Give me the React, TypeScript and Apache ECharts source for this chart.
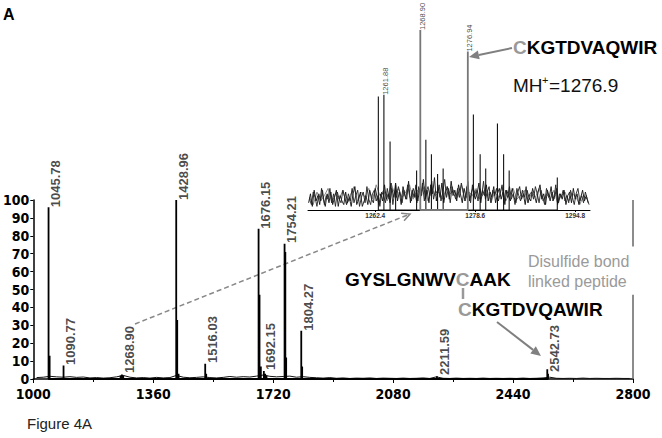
import React, { useEffect, useRef } from "react";
import * as echarts from "echarts";

// ---------- main spectrum ----------
const peakMz = [1045.8, 1049, 1090.8, 1262, 1266, 1270, 1429, 1432, 1436, 1516, 1519, 1676.2, 1679, 1683, 1692, 1696, 1700, 1754.2, 1756.5, 1759, 1804.3, 1807, 2211.6, 2542.7, 2545];
const peakInt = [96, 13, 7.5, 2, 2.5, 2, 100, 33, 3, 8.5, 3, 84, 47, 7, 4.5, 3, 2, 75.5, 71, 12, 27, 7, 1.5, 5.5, 3];

const noiseMz = [1010, 1030, 1050, 1070, 1090, 1110, 1130, 1150, 1170, 1190, 1210, 1230, 1250, 1270, 1290, 1310, 1330, 1350, 1370, 1390, 1410, 1430, 1450, 1470, 1490, 1510, 1530, 1550, 1570, 1590, 1610, 1630, 1650, 1670, 1690, 1710, 1730, 1750, 1770, 1790, 1810, 1830, 1850, 1870, 1890, 1910, 1930, 1950, 1970, 1990, 2010, 2030, 2050, 2070, 2090, 2110, 2130, 2150, 2170, 2190, 2210, 2230, 2250, 2270, 2290, 2310, 2330, 2350, 2370, 2390, 2410, 2430, 2450, 2470, 2490, 2510, 2530, 2550, 2570, 2590, 2610, 2630, 2650, 2670, 2690, 2710, 2730, 2750, 2770, 2790];
const noiseInt = [0.8, 1.0, 1.5, 1.2, 1.0, 1.3, 0.9, 1.1, 0.6, 0.8, 0.5, 0.7, 1.2, 2.0, 1.0, 0.6, 0.8, 0.5, 0.9, 0.6, 0.8, 2.0, 1.0, 0.7, 0.9, 1.2, 0.8, 0.6, 0.9, 1.4, 1.0, 1.3, 1.1, 1.6, 2.2, 1.5, 1.2, 1.4, 1.6, 1.0, 1.3, 0.9, 0.7, 0.5, 0.8, 0.4, 0.6, 0.3, 0.5, 0.4, 0.6, 0.3, 0.5, 0.4, 0.3, 0.5, 0.3, 0.4, 0.6, 0.3, 1.2, 0.4, 0.3, 0.5, 0.3, 0.4, 0.3, 0.5, 0.3, 0.4, 0.3, 0.4, 0.3, 0.5, 0.3, 0.4, 0.6, 1.0, 0.4, 0.3, 0.4, 0.3, 0.5, 0.3, 0.4, 0.3, 0.3, 0.4, 0.3, 0.3];

const labelMz = [1045.8, 1090.8, 1268.9, 1429, 1516, 1676.2, 1692, 1754.2, 1804.3, 2211.6, 2542.7];
const labelInt = [96, 7.8, 3.4, 100, 8.9, 84, 5, 76, 27, 2.2, 3.9];
const labelText = ["1045.78", "1090.77", "1268.90", "1428.96", "1516.03", "1676.15", "1692.15", "1754.21", "1804.27", "2211.59", "2542.73"];

const xTicks = [1000, 2800, 360];

// ---------- inset ----------
const insetStart = 1251.6;
const insetStep = 0.3;
const insetNoise = [
  4, 9, 2, 11, 5, 8, 3, 12, 6, 2, 9, 4, 10, 3, 7, 11, 2, 8, 5, 3,
  10, 4, 7, 2, 9, 13, 3, 6, 10, 2, 5, 8, 3, 11, 6, 4, 12, 7, 3, 9,
  5, 14, 6, 9, 4, 12, 7, 15, 5, 10, 3, 13, 8, 6, 16, 4, 11, 7, 14, 5,
  12, 8, 17, 6, 11, 4, 14, 9, 18, 5, 12, 7, 15, 4, 10, 13, 6, 16, 8, 11,
  5, 14, 9, 4, 12, 7, 16, 5, 10, 13, 6, 9, 15, 4, 11, 8, 14, 5, 10, 7,
  13, 4, 9, 12, 6, 10, 3, 11, 8, 5, 12, 7, 4, 10, 13, 6, 9, 3, 11, 7,
  5, 12, 8, 4, 10, 14, 6, 9, 3, 11, 7, 13, 5, 8, 12, 4, 9, 6, 11, 3,
  8, 10, 4, 12, 6, 9, 3, 7, 11, 5, 8, 4,
];
const insetStart2 = 1251.75;
const insetNoise2 = [
  6, 3, 10, 7, 2, 9, 5, 11, 3, 8, 6, 12, 4, 9, 2, 10, 6, 4, 11, 7,
  3, 9, 5, 12, 4, 8, 11, 2, 7, 10, 4, 13, 6, 3, 9, 11, 5, 8, 2, 10,
  8, 4, 12, 6, 15, 3, 10, 7, 13, 9, 4, 11, 6, 14, 8, 5, 12, 9, 4, 13,
  7, 15, 5, 10, 13, 8, 16, 6, 11, 9, 14, 5, 10, 17, 7, 12, 4, 13, 9, 6,
  12, 7, 15, 10, 5, 13, 9, 4, 14, 7, 11, 5, 12, 8, 16, 6, 10, 13, 4, 11,
  8, 12, 5, 9, 14, 4, 11, 7, 13, 6, 9, 3, 12, 8, 5, 11, 7, 13, 4, 9,
  10, 6, 13, 9, 4, 11, 7, 3, 12, 8, 5, 10, 6, 14, 3, 9, 7, 11, 5, 8,
  4, 11, 7, 3, 9, 12, 5, 8, 4, 10, 6, 3,
];
const greyStart = 1251.75;
const greyStep = 0.6;
const greyNoise = [
  7, 3, 10, 5, 8, 12, 4, 9, 6, 11, 3, 8, 13, 5, 10, 7, 12, 6, 14, 8,
  11, 5, 15, 9, 12, 7, 10, 14, 6, 11, 9, 13, 5, 12, 8, 10, 6, 13, 9, 11,
  7, 14, 5, 10, 8, 12, 6, 9, 11, 4, 10, 7, 13, 5, 9, 12, 6, 8, 11, 4,
  10, 7, 12, 5, 9, 6, 11, 4, 8, 10, 5, 9, 7, 3, 8, 6,
];
const insetPeakMz = [1262.9, 1263.8, 1264.8, 1265.7, 1269.1, 1270.6, 1271.5, 1272.5, 1273.4, 1278.3, 1279.4, 1280.3, 1282.2, 1283.2, 1284.1, 1291.9];
const insetPeakInt = [63, 64, 38, 14, 22, 39, 31, 20, 23, 53, 31, 23, 48, 31, 22, 18];
const insetGreyMz = [1269.7, 1277.4];
const insetGreyInt = [100, 88];
const insetLabelMz = [1263.8, 1269.7, 1277.4];
const insetLabelInt = [64, 100, 88];
const insetLabelText = ["1261.88", "1268.90", "1276.94"];
const insetTicks = [1262.4, 1278.6, 1294.8];

const sticks = (mz: number[], it: number[]) => {
  const out: number[][] = [];
  mz.forEach((m, i) => {
    out.push([m, 0], [m, it[i]], [m, 0]);
  });
  return out;
};

const arrow = (x1: number, y1: number, x2: number, y2: number, color: string, w: number, len: number, half: number, open: boolean, dashed: boolean) => {
  const dx = x2 - x1;
  const dy = y2 - y1;
  const d = Math.sqrt(dx * dx + dy * dy);
  const ux = dx / d;
  const uy = dy / d;
  const bx = x2 - ux * len;
  const by = y2 - uy * len;
  const p1 = [bx - uy * half, by + ux * half];
  const p2 = [bx + uy * half, by - ux * half];
  const els: any[] = [
    {
      type: "line",
      shape: { x1, y1, x2: open ? x2 : bx, y2: open ? y2 : by },
      style: { stroke: color, lineWidth: w, lineDash: dashed ? [5, 3] : null },
    },
  ];
  if (open) {
    els.push({
      type: "polyline",
      shape: { points: [p1, [x2, y2], p2] },
      style: { stroke: color, lineWidth: w, fill: null },
    });
  } else {
    els.push({
      type: "polygon",
      shape: { points: [p1, [x2, y2], p2] },
      style: { fill: color },
    });
  }
  return els;
};

const NARROW = "'Liberation Sans Narrow', 'Arial Narrow', 'DejaVu Sans Condensed', sans-serif";
const SANS = "'Liberation Sans', Arial, sans-serif";

export default function App() {
  const ref = useRef<HTMLDivElement>(null);
  useEffect(() => {
    const chart = echarts.init(ref.current!, null, { renderer: "svg" });
    const noiseData = noiseMz.map((m, i) => [m, noiseInt[i]]);
    const insetNoiseData = insetNoise.map((v, i) => [+(insetStart + i * insetStep).toFixed(2), v]);
    const insetNoiseData2 = insetNoise2.map((v, i) => [+(insetStart2 + i * insetStep).toFixed(2), v]);
    const greyNoiseData = greyNoise.map((v, i) => [+(greyStart + i * greyStep).toFixed(2), v]);

    const option: any = {
      animation: false,
      grid: [
        { left: 33, right: 29, top: 200, bottom: 59 },
        { left: 308, right: 72, top: 30, bottom: 228 },
      ],
      xAxis: [
        {
          type: "value",
          gridIndex: 0,
          min: xTicks[0],
          max: xTicks[1],
          interval: xTicks[2],
          axisLine: { show: true, lineStyle: { color: "#000", width: 1.5 } },
          axisTick: { show: true, length: 4, lineStyle: { color: "#000" } },
          minorTick: { show: true, splitNumber: 2, length: 3, lineStyle: { color: "#000" } },
          axisLabel: {
            color: "#000",
            fontFamily: NARROW,
            fontWeight: "bold",
            fontSize: 14,
            margin: 8,
            lineHeight: 14,
            formatter: (v: number) => String(v),
          },
          splitLine: { show: false },
        },
        {
          type: "value",
          gridIndex: 1,
          min: 1251.5,
          max: 1297.2,
          axisLine: { show: true, lineStyle: { color: "#000", width: 1 } },
          axisTick: { show: true, length: 2, customValues: insetTicks, lineStyle: { color: "#000" } },
          axisLabel: { customValues: insetTicks, color: "#333", fontFamily: SANS, fontWeight: "bold", fontSize: 6.5, margin: 2, formatter: (v: number) => v.toFixed(1) },
          splitLine: { show: false },
        },
      ],
      yAxis: [
        {
          type: "value",
          gridIndex: 0,
          min: 0,
          max: 100,
          interval: 10,
          axisLine: { show: true, lineStyle: { color: "#000", width: 1.5 } },
          axisTick: { show: true, length: 3, lineStyle: { color: "#000" } },
          axisLabel: { color: "#000", fontFamily: NARROW, fontWeight: "bold", fontSize: 14, lineHeight: 13, margin: 4 },
          splitLine: { show: false },
        },
        {
          type: "value",
          gridIndex: 1,
          min: 0,
          max: 100,
          show: false,
        },
      ],
      series: [
        {
          type: "line",
          xAxisIndex: 0,
          yAxisIndex: 0,
          data: noiseData,
          symbol: "none",
          lineStyle: { color: "#111", width: 1 },
          markLine: {
            silent: true,
            symbol: "none",
            label: { show: false },
            lineStyle: { color: "#666", width: 1.5, type: "solid" },
            data: [
              [{ coord: [2800, 0] }, { coord: [2800, 47] }],
              [{ coord: [2800, 74] }, { coord: [2800, 100] }],
            ],
          },
        },
        {
          type: "line",
          xAxisIndex: 0,
          yAxisIndex: 0,
          data: sticks(peakMz, peakInt),
          symbol: "none",
          lineStyle: { color: "#000", width: 1.8 },
        },
        {
          type: "scatter",
          xAxisIndex: 0,
          yAxisIndex: 0,
          symbolSize: 0.1,
          itemStyle: { color: "transparent" },
          data: labelMz.map((m, i) => ({ value: [m, labelInt[i]], name: labelText[i] })),
          label: {
            show: true,
            formatter: "{b}",
            position: "right",
            distance: 7,
            rotate: 90,
            align: "left",
            verticalAlign: "middle",
            color: "#1a1a1a",
            fontFamily: SANS,
            fontWeight: "bold",
            fontSize: 13,
          },
        },
        {
          type: "line",
          xAxisIndex: 1,
          yAxisIndex: 1,
          data: greyNoiseData,
          symbol: "none",
          lineStyle: { color: "#8a8a8a", width: 1 },
        },
        {
          type: "line",
          xAxisIndex: 1,
          yAxisIndex: 1,
          data: insetNoiseData,
          symbol: "none",
          lineStyle: { color: "#111", width: 0.9 },
        },
        {
          type: "line",
          xAxisIndex: 1,
          yAxisIndex: 1,
          data: insetNoiseData2,
          symbol: "none",
          lineStyle: { color: "#222", width: 0.9 },
        },
        {
          type: "line",
          xAxisIndex: 1,
          yAxisIndex: 1,
          data: sticks(insetPeakMz, insetPeakInt),
          symbol: "none",
          lineStyle: { color: "#111", width: 1.1 },
        },
        {
          type: "line",
          xAxisIndex: 1,
          yAxisIndex: 1,
          data: sticks(insetGreyMz, insetGreyInt),
          symbol: "none",
          lineStyle: { color: "#777", width: 1.8 },
        },
        {
          type: "scatter",
          xAxisIndex: 1,
          yAxisIndex: 1,
          symbolSize: 0.1,
          itemStyle: { color: "transparent" },
          data: insetLabelMz.map((m, i) => ({ value: [m, insetLabelInt[i]], name: insetLabelText[i] })),
          label: {
            show: true,
            formatter: "{b}",
            position: "right",
            distance: 2,
            rotate: 90,
            align: "left",
            verticalAlign: "middle",
            color: "#111",
            fontFamily: SANS,
            fontSize: 7.5,
          },
        },
      ],
      graphic: [
        { type: "text", left: 3, top: 6, style: { text: "A", font: `bold 16px ${SANS}`, fill: "#000" } },
        { type: "text", left: 27, top: 416, style: { text: "Figure 4A", font: `15px ${SANS}`, fill: "#222" } },
        {
          type: "text",
          left: 513,
          top: 38,
          style: {
            text: "{g|C}{b|KGTDVAQWIR}",
            rich: {
              g: { fontFamily: SANS, fontWeight: "bold", fontSize: 19, fill: "#999", color: "#999" },
              b: { fontFamily: SANS, fontWeight: "bold", fontSize: 19, fill: "#000", color: "#000" },
            },
          },
        },
        { type: "text", left: 513, top: 76, style: { text: "MH", font: `19px ${SANS}`, fill: "#111" } },
        { type: "text", left: 542, top: 74, style: { text: "+", font: `11px ${SANS}`, fill: "#111" } },
        { type: "text", left: 549, top: 76, style: { text: "=1276.9", font: `19px ${SANS}`, fill: "#111" } },
        {
          type: "text",
          left: 345,
          top: 270,
          style: {
            text: "{b|GYSLGNWV}{g|C}{b|AAK}",
            rich: {
              g: { fontFamily: SANS, fontWeight: "bold", fontSize: 19, fill: "#999", color: "#999" },
              b: { fontFamily: SANS, fontWeight: "bold", fontSize: 19, fill: "#000", color: "#000" },
            },
          },
        },
        { type: "line", shape: { x1: 463, y1: 288, x2: 463, y2: 299 }, style: { stroke: "#999", lineWidth: 2.5 } },
        {
          type: "text",
          left: 458,
          top: 300,
          style: {
            text: "{g|C}{b|KGTDVQAWIR}",
            rich: {
              g: { fontFamily: SANS, fontWeight: "bold", fontSize: 19, fill: "#999", color: "#999" },
              b: { fontFamily: SANS, fontWeight: "bold", fontSize: 19, fill: "#000", color: "#000" },
            },
          },
        },
        { type: "text", left: 528, top: 253, style: { text: "Disulfide bond", font: `16px ${SANS}`, fill: "#9a9a9a" } },
        { type: "text", left: 528, top: 273, style: { text: "linked peptide", font: `16px ${SANS}`, fill: "#9a9a9a" } },
        ...arrow(512, 48, 469, 57, "#808080", 2, 10, 4.5, false, false),
        ...arrow(497, 322, 541, 356, "#808080", 2, 10, 4.5, false, false),
        ...arrow(135, 324, 410, 214, "#888", 1.5, 8, 4, true, true),
      ],
    };
    chart.setOption(option);
    return () => chart.dispose();
  }, []);
  return <div ref={ref} style={{ position: "fixed", left: 0, top: 0, width: 662, height: 438, background: "#fff" }} />;
}
